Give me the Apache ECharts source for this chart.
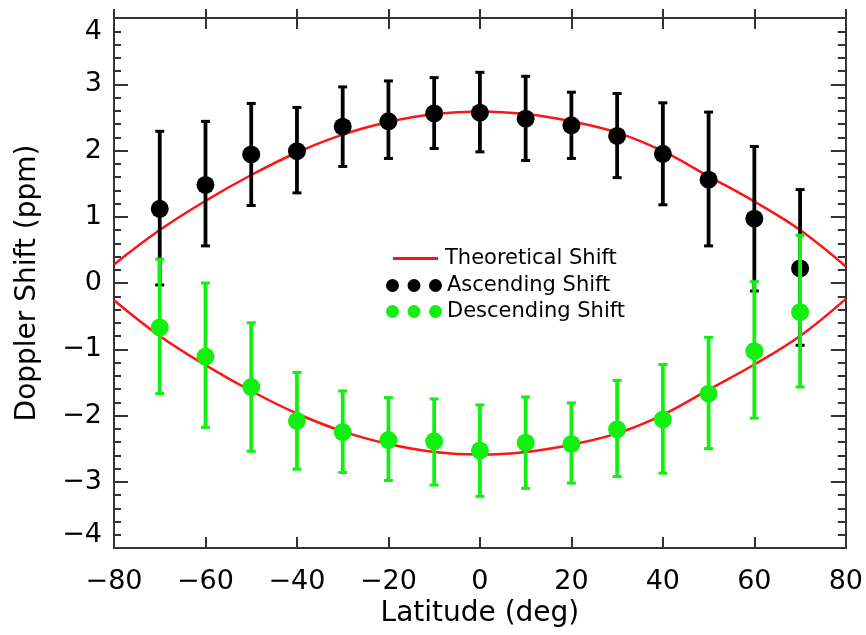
<!DOCTYPE html>
<html>
<head>
<meta charset="utf-8">
<title>Doppler Shift vs Latitude</title>
<script src="https://cdn.jsdelivr.net/npm/echarts@6/dist/echarts.min.js"></script>
<style>
  html, body { margin: 0; padding: 0; background: #fff; }
  #chart { width: 866px; height: 635px; }
</style>
</head>
<body>
<div id="chart"></div>
<script>
// Latitude grid of the measurements (deg)
const latitudes = [-70, -60, -50, -40, -30, -20, -10, 0, 10, 20, 30, 40, 50, 60, 70];

// Ascending passes: measured shift and error-bar extent (ppm)
const ascValue = [1.12, 1.48, 1.94, 1.99, 2.36, 2.44, 2.56, 2.57, 2.48, 2.38, 2.22, 1.95, 1.56, 0.97, 0.22];
const ascHigh  = [2.29, 2.44, 2.71, 2.65, 2.96, 3.05, 3.10, 3.18, 3.12, 2.88, 2.86, 2.72, 2.58, 2.06, 1.41];
const ascLow   = [-0.03, 0.56, 1.17, 1.36, 1.76, 1.88, 2.03, 1.98, 1.85, 1.88, 1.59, 1.18, 0.56, -0.12, -0.94];

// Descending passes: measured shift and error-bar extent (ppm)
const descValue = [-0.67, -1.11, -1.57, -2.08, -2.25, -2.37, -2.39, -2.53, -2.41, -2.43, -2.21, -2.06, -1.67, -1.03, -0.44];
const descHigh  = [0.36, 0.00, -0.60, -1.35, -1.63, -1.73, -1.75, -1.84, -1.72, -1.81, -1.47, -1.23, -0.82, 0.02, 0.72];
const descLow   = [-1.67, -2.18, -2.54, -2.81, -2.86, -2.98, -3.05, -3.22, -3.10, -3.02, -2.92, -2.87, -2.50, -2.04, -1.57];

// Theoretical curves sampled across the full latitude range
const theoLat   = [-80, -70, -60, -50, -40, -30, -20, -10, 0, 10, 20, 30, 40, 50, 60, 70, 80];
const theoUpper = [0.28, 0.80, 1.24, 1.63, 1.97, 2.24, 2.43, 2.55, 2.59, 2.55, 2.44, 2.27, 1.99, 1.61, 1.23, 0.80, 0.25];
const theoLower = [-0.26, -0.80, -1.24, -1.63, -1.97, -2.24, -2.43, -2.55, -2.59, -2.55, -2.44, -2.27, -1.99, -1.61, -1.23, -0.80, -0.24];

// Axis tick values
const xTicks = { min: -80, max: 80, step: 20 };
const yTicks = { min: -4, max: 4, step: 1 };

const FONT = 'DejaVu Sans';
const AXIS_COLOR = '#333333';
const RED = '#ff1414';
const GREEN = '#12f012';
const BLACK = '#000000';

const minus = v => (v < 0 ? '\u2212' + Math.abs(v) : String(v));
const zip2 = (xs, ys) => xs.map((x, i) => [x, ys[i]]);
const zip3 = (xs, lo, hi) => xs.map((x, i) => [x, lo[i], hi[i]]);

function errorBars(color) {
  return function (params, api) {
    const x = api.value(0);
    const top = api.coord([x, api.value(2)]);
    const bot = api.coord([x, api.value(1)]);
    const half = 4.5;
    return {
      type: 'group',
      children: [
        { type: 'line', shape: { x1: top[0], y1: top[1], x2: bot[0], y2: bot[1] }, style: { stroke: color, lineWidth: 3.8 } },
        { type: 'line', shape: { x1: top[0] - half, y1: top[1], x2: top[0] + half, y2: top[1] }, style: { stroke: color, lineWidth: 3 } },
        { type: 'line', shape: { x1: bot[0] - half, y1: bot[1], x2: bot[0] + half, y2: bot[1] }, style: { stroke: color, lineWidth: 3 } }
      ]
    };
  };
}

const axisLine = { show: true, onZero: false, lineStyle: { color: AXIS_COLOR, width: 2 } };
const tickStyle = { color: AXIS_COLOR, width: 2 };

// Three-dot legend marker
const threeDots = 'path://M0,6.5a6.5,6.5 0 1,0 13,0a6.5,6.5 0 1,0 -13,0Z' +
  'M21.5,6.5a6.5,6.5 0 1,0 13,0a6.5,6.5 0 1,0 -13,0Z' +
  'M43,6.5a6.5,6.5 0 1,0 13,0a6.5,6.5 0 1,0 -13,0Z';

const legendText = { fontFamily: FONT, fontSize: 21, color: '#000' };

const option = {
  animation: false,
  backgroundColor: '#ffffff',
  textStyle: { fontFamily: FONT },
  grid: { left: 114, right: 20, top: 18, bottom: 87, containLabel: false },
  legend: [
    {
      data: ['Theoretical Shift'], left: 388, top: 243, orient: 'vertical',
      icon: 'rect', itemWidth: 45, itemHeight: 3,
      textStyle: Object.assign({ padding: [0, 0, 0, 2] }, legendText),
      selectedMode: false
    },
    {
      data: ['Ascending Shift'], left: 381, top: 270, orient: 'vertical',
      icon: threeDots, itemWidth: 56, itemHeight: 13,
      textStyle: legendText, selectedMode: false
    },
    {
      data: ['Descending Shift'], left: 381, top: 296, orient: 'vertical',
      icon: threeDots, itemWidth: 56, itemHeight: 13,
      textStyle: legendText, selectedMode: false
    }
  ],
  xAxis: [
    {
      type: 'value', position: 'bottom',
      min: xTicks.min, max: xTicks.max, interval: xTicks.step,
      axisLine: axisLine,
      axisTick: { show: true, inside: true, length: 11, lineStyle: tickStyle },
      axisLabel: { fontFamily: FONT, fontSize: 27, color: '#000', margin: 20, formatter: minus },
      splitLine: { show: false },
      name: 'Latitude (deg)', nameLocation: 'middle', nameGap: 52,
      nameTextStyle: { fontFamily: FONT, fontSize: 28, color: '#000' }
    },
    {
      type: 'value', position: 'top',
      min: xTicks.min, max: xTicks.max, interval: xTicks.step,
      axisLine: axisLine,
      axisTick: { show: true, inside: true, length: 11, lineStyle: tickStyle },
      axisLabel: { show: false },
      splitLine: { show: false }
    },
    {
      // outward part of the top tick marks
      type: 'value', position: 'top',
      min: xTicks.min, max: xTicks.max, interval: xTicks.step,
      axisLine: { show: false, onZero: false },
      axisTick: { show: true, inside: false, length: 9, lineStyle: tickStyle },
      axisLabel: { show: false },
      splitLine: { show: false }
    }
  ],
  yAxis: [
    {
      type: 'value', position: 'left',
      min: yTicks.min, max: yTicks.max, interval: yTicks.step,
      axisLine: axisLine,
      axisTick: { show: true, inside: true, length: 14, lineStyle: tickStyle },
      minorTick: { show: true, splitNumber: 5, length: 7, lineStyle: tickStyle },
      axisLabel: {
        fontFamily: FONT, fontSize: 27, color: '#000', margin: 12, formatter: minus,
        verticalAlignMaxLabel: 'top', verticalAlignMinLabel: 'bottom'
      },
      splitLine: { show: false },
      name: 'Doppler Shift (ppm)', nameLocation: 'middle', nameGap: 72,
      nameTextStyle: { fontFamily: FONT, fontSize: 28, color: '#000' }
    },
    {
      type: 'value', position: 'right',
      min: yTicks.min, max: yTicks.max, interval: yTicks.step,
      axisLine: axisLine,
      axisTick: { show: true, inside: true, length: 15, lineStyle: tickStyle },
      minorTick: { show: true, splitNumber: 5, length: 8, lineStyle: tickStyle },
      axisLabel: { show: false },
      splitLine: { show: false }
    }
  ],
  series: [
    {
      name: 'Theoretical Shift', type: 'line', z: 1,
      data: zip2(theoLat, theoUpper), smooth: 0.4, showSymbol: false,
      lineStyle: { color: RED, width: 2.5 }, itemStyle: { color: RED }
    },
    {
      name: 'Theoretical Shift', type: 'line', z: 1,
      data: zip2(theoLat, theoLower), smooth: 0.4, showSymbol: false,
      lineStyle: { color: RED, width: 2.5 }, itemStyle: { color: RED }
    },
    {
      name: 'Ascending error', type: 'custom', z: 2,
      renderItem: errorBars(BLACK), data: zip3(latitudes, ascLow, ascHigh)
    },
    {
      name: 'Ascending Shift', type: 'scatter', z: 3,
      data: zip2(latitudes, ascValue), symbol: 'circle', symbolSize: 18,
      itemStyle: { color: BLACK, opacity: 1 }
    },
    {
      name: 'Descending error', type: 'custom', z: 4,
      renderItem: errorBars(GREEN), data: zip3(latitudes, descLow, descHigh)
    },
    {
      name: 'Descending Shift', type: 'scatter', z: 5,
      data: zip2(latitudes, descValue), symbol: 'circle', symbolSize: 18,
      itemStyle: { color: GREEN, opacity: 1 }
    }
  ]
};

const chart = echarts.init(document.getElementById('chart'), null, { renderer: 'canvas' });
chart.setOption(option);
</script>
</body>
</html>
